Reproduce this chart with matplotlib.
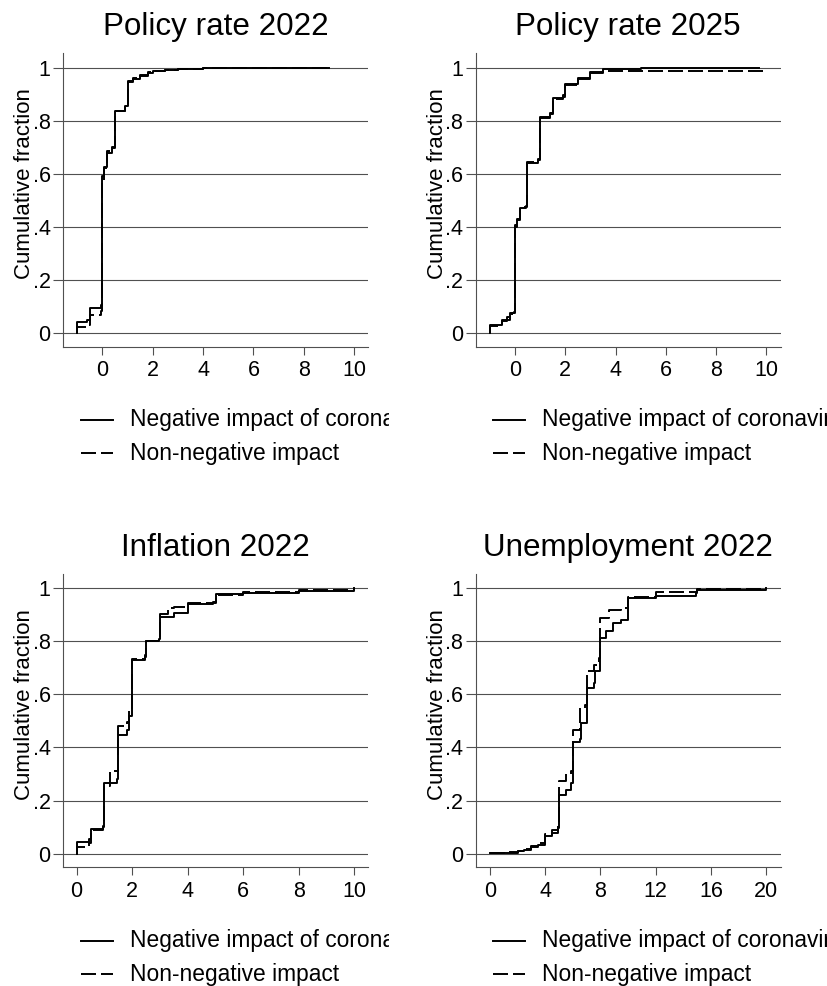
import matplotlib
matplotlib.use("Agg")
import matplotlib.pyplot as plt

plt.rcParams['font.family'] = ['Liberation Sans', 'DejaVu Sans']
plt.rcParams['lines.scale_dashes'] = False

# ---------------- data ----------------
titles = ["Policy rate 2022", "Policy rate 2025", "Inflation 2022", "Unemployment 2022"]
legend_labels = ["Negative impact of coronavirus", "Non-negative impact"]
y_ticks = [0, 0.2, 0.4, 0.6, 0.8, 1.0]
y_tick_labels = ["0", ".2", ".4", ".6", ".8", "1"]
x_ticks_10 = [0, 2, 4, 6, 8, 10]
x_ticks_20 = [0, 4, 8, 12, 16, 20]

p22_neg_x = [-1.0, -1.0, -0.6, -0.5, -0.05, 0.0, 0.08, 0.17, 0.4, 0.5, 0.9, 1.0, 1.2, 1.5, 1.8, 2.0, 2.5, 3.0, 4.0, 6.0, 9.0]
p22_neg_y = [0.0, 0.040, 0.050, 0.095, 0.105, 0.590, 0.625, 0.680, 0.696, 0.838, 0.855, 0.950, 0.958, 0.968, 0.978, 0.988, 0.991, 0.995, 0.997, 0.998, 1.000]
p22_non_x = [-1.0, -1.0, -0.6, -0.5, -0.05, 0.0, 0.08, 0.17, 0.4, 0.5, 0.9, 1.0, 1.2, 1.5, 1.8, 2.0, 2.5, 3.0, 4.0, 6.0, 9.0]
p22_non_y = [0.0, 0.022, 0.030, 0.068, 0.084, 0.567, 0.620, 0.685, 0.700, 0.835, 0.860, 0.945, 0.960, 0.972, 0.982, 0.986, 0.990, 0.995, 0.997, 0.998, 1.000]

p25_neg_x = [-1.0, -1.0, -0.5, -0.2, -0.05, 0.0, 0.1, 0.2, 0.45, 0.5, 0.9, 1.0, 1.4, 1.5, 1.9, 2.0, 2.5, 3.0, 3.5, 5.0, 9.7]
p25_neg_y = [0.0, 0.030, 0.050, 0.074, 0.080, 0.400, 0.426, 0.470, 0.476, 0.640, 0.655, 0.810, 0.830, 0.885, 0.890, 0.940, 0.960, 0.982, 0.994, 0.997, 1.000]
p25_non_x = [-1.0, -1.0, -0.5, -0.3, -0.1, 0.0, 0.1, 0.2, 0.45, 0.5, 0.9, 1.0, 1.4, 1.5, 1.9, 2.0, 2.5, 3.0, 3.5, 5.0, 9.9]
p25_non_y = [0.0, 0.025, 0.045, 0.060, 0.075, 0.405, 0.430, 0.475, 0.480, 0.645, 0.650, 0.815, 0.825, 0.880, 0.895, 0.935, 0.958, 0.978, 0.986, 0.988, 1.000]

inf_neg_x = [0.0, 0.0, 0.45, 0.5, 0.95, 1.0, 1.45, 1.5, 1.8, 1.9, 2.0, 2.45, 2.5, 2.95, 3.0, 3.5, 4.0, 4.9, 5.0, 6.0, 8.0, 10.0]
inf_neg_y = [0.0, 0.045, 0.054, 0.092, 0.104, 0.265, 0.280, 0.448, 0.467, 0.517, 0.730, 0.743, 0.800, 0.810, 0.892, 0.907, 0.942, 0.947, 0.979, 0.983, 0.990, 1.000]
inf_non_x = [0.0, 0.0, 0.45, 0.5, 0.95, 1.0, 1.2, 1.5, 1.8, 1.9, 2.0, 2.45, 2.5, 2.95, 3.0, 3.3, 3.5, 4.0, 5.0, 6.0, 8.0, 10.0]
inf_non_y = [0.0, 0.026, 0.040, 0.088, 0.100, 0.255, 0.310, 0.480, 0.495, 0.550, 0.735, 0.748, 0.800, 0.808, 0.905, 0.925, 0.930, 0.945, 0.975, 0.985, 0.993, 1.000]

une_neg_x = [0.0, 1.0, 2.0, 2.5, 3.0, 3.5, 4.0, 4.5, 4.9, 5.0, 5.5, 5.9, 6.0, 6.5, 6.6, 7.0, 7.5, 7.6, 8.0, 8.4, 8.9, 9.5, 10.0, 12.0, 14.9, 15.0, 20.0]
une_neg_y = [0.003, 0.004, 0.008, 0.015, 0.024, 0.033, 0.067, 0.079, 0.095, 0.221, 0.240, 0.268, 0.419, 0.431, 0.492, 0.624, 0.643, 0.687, 0.813, 0.838, 0.869, 0.879, 0.963, 0.972, 0.982, 0.992, 1.000]
une_non_x = [0.0, 1.0, 2.0, 2.5, 3.0, 3.5, 4.0, 4.5, 4.9, 5.0, 5.5, 5.9, 6.0, 6.5, 6.9, 7.0, 7.5, 7.9, 8.0, 8.6, 9.5, 10.0, 12.0, 15.0, 20.0]
une_non_y = [0.003, 0.005, 0.010, 0.018, 0.030, 0.040, 0.075, 0.090, 0.105, 0.272, 0.300, 0.310, 0.467, 0.548, 0.560, 0.687, 0.710, 0.737, 0.888, 0.920, 0.925, 0.967, 0.985, 0.997, 1.000]

# ---------------- layout ----------------
W, H = 827, 986
fig = plt.figure(figsize=(W / 100, H / 100), dpi=100)
DASH = (0, (10.8, 3.6))
GRID = '#505050'
AXC = '#505050'


def fx(px):
    return px / W


def fy(py):
    return 1 - py / H


panels = [
    dict(title=titles[0], left=63.3, top=53.3, xlim=(-1.55, 10.56), xt=x_ticks_10,
         neg=(p22_neg_x, p22_neg_y), non=(p22_non_x, p22_non_y)),
    dict(title=titles[1], left=475.7, top=53.3, xlim=(-1.56, 10.57), xt=x_ticks_10,
         neg=(p25_neg_x, p25_neg_y), non=(p25_non_x, p25_non_y)),
    dict(title=titles[2], left=63.3, top=574.0, xlim=(-0.48, 10.5), xt=x_ticks_10,
         neg=(inf_neg_x, inf_neg_y), non=(inf_non_x, inf_non_y)),
    dict(title=titles[3], left=475.7, top=574.0, xlim=(-1.03, 21.04), xt=x_ticks_20,
         neg=(une_neg_x, une_neg_y), non=(une_non_x, une_non_y)),
]

AW, AH = 305.0, 293.4

for i, p in enumerate(panels):
    ax = fig.add_axes([fx(p['left']), fy(p['top'] + AH), fx(AW), AH / H])
    ax.set_xlim(*p['xlim'])
    ax.set_ylim(-0.052, 1.054)
    ax.set_yticks(y_ticks)
    ax.set_yticklabels(y_tick_labels)
    ax.set_xticks(p['xt'])
    ax.set_xticklabels([str(t) for t in p['xt']])
    ax.tick_params(axis='y', length=7.2, width=0.8, color=AXC, pad=2.0, labelsize=15.5)
    ax.tick_params(axis='x', length=6.0, width=0.8, color=AXC, pad=3.5, labelsize=15.5)
    for s in ['top', 'right']:
        ax.spines[s].set_visible(False)
    for s in ['left', 'bottom']:
        ax.spines[s].set_color(AXC)
        ax.spines[s].set_linewidth(0.8)
    ax.grid(axis='y', color=GRID, linewidth=0.8)
    ax.set_axisbelow(True)
    ax.step(p['neg'][0], p['neg'][1], where='post', color='black', linewidth=1.4)
    ax.step(p['non'][0], p['non'][1], where='post', color='black', linewidth=1.4, linestyle=DASH)
    ax.set_ylabel("Cumulative fraction", fontsize=16, va='center')
    ax.yaxis.set_label_coords(-38.6 / AW, 0.555)
    fig.text(fx(p['left'] + 152.5), fy(p['top'] - 18.3), p['title'], fontsize=22.6,
             ha='center', va='baseline')

    # legend (clipped like the reference)
    off = p['left'] - 63.3
    legtop = p['top'] + 351.0
    clip_right = 389.0 if i % 2 == 0 else 827.0
    lax = fig.add_axes([fx(off), fy(legtop + 80), fx(clip_right - off), 80 / H])
    lax.set_axis_off()
    lax.set_xlim(off, clip_right)
    lax.set_ylim(legtop + 80, legtop)
    r1, r2 = legtop + 15.5, legtop + 49.0
    lax.plot([81 + off, 113 + off], [r1, r1], color='black', linewidth=1.4, clip_on=False)
    lax.plot([81 + off, 113 + off], [r2, r2], color='black', linewidth=1.4,
             linestyle=DASH, clip_on=False)
    lax.text(130 + off, r1, legend_labels[0], fontsize=16.4, va='center', ha='left', clip_on=True)
    lax.text(130 + off, r2, legend_labels[1], fontsize=16.4, va='center', ha='left', clip_on=True)

fig.savefig("out.png", dpi=100)
